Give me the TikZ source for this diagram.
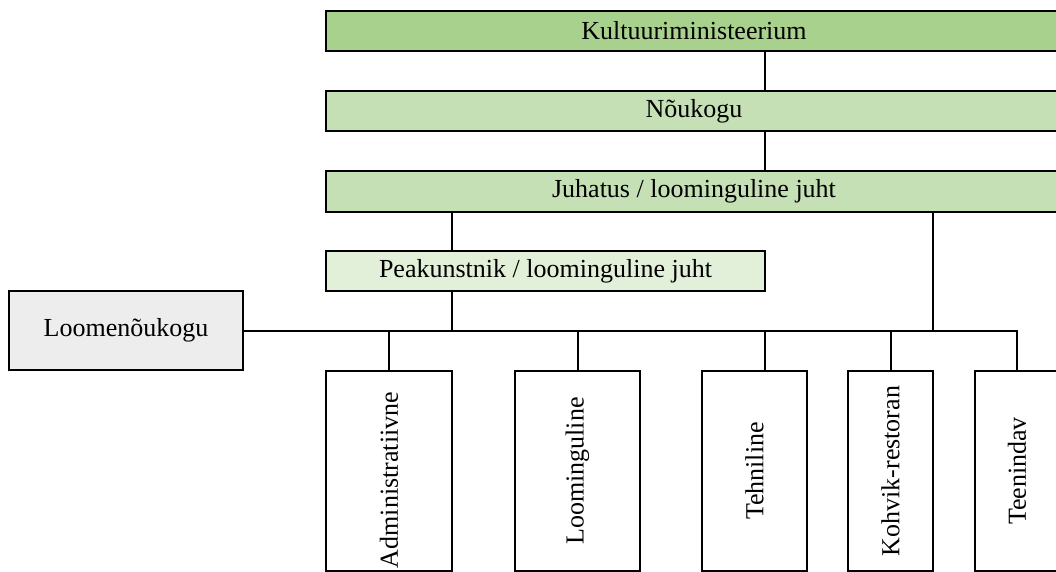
\documentclass[tikz,border=0pt]{standalone}
\usepackage{fontspec}
\setmainfont{Liberation Serif}
\definecolor{gDark}{HTML}{A9D18E}
\definecolor{gMid}{HTML}{C5E0B4}
\definecolor{gLight}{HTML}{E2F0D9}
\definecolor{greyFill}{HTML}{EDEDED}
\tikzset{
  unitbox/.style={draw=black, line width=2pt, rectangle, inner sep=0pt, outer sep=0pt,
    font=\fontsize{26}{30}\selectfont, text=black},
  wide/.style={unitbox, minimum width=736pt, minimum height=40pt},
  dept/.style={unitbox, fill=white, minimum height=200pt},
  vtext/.style={rotate=90, inner sep=0pt, font=\fontsize{26}{30}\selectfont},
  link/.style={line width=2pt, line cap=rect}
}
\begin{document}
\begin{tikzpicture}[x=1pt, y=-1pt]
  \clip (0,0) rectangle (1056,572);
  \fill[white] (0,0) rectangle (1056,572);

  % guide coordinates for vertical connectors
  \coordinate (xmain)  at (765,0);
  \coordinate (xleft)  at (452,0);
  \coordinate (xright) at (933,0);
  \coordinate (xlom)   at (578,0);
  \coordinate (xkoh)   at (891,0);
  \coordinate (busend) at (1017,331);

  % governing bodies (run off the right edge)
  \node[wide, fill=gDark] (kul) at (694,31)  {Kultuuriministeerium};
  \node[wide, fill=gMid]  (nou) at (694,111) {Nõukogu};
  \node[wide, fill=gMid]  (juh) at (694,191.5) {Juhatus / loominguline juht};

  \node[unitbox, fill=gLight, minimum width=439pt, minimum height=40pt] (pea) at (545.5,271)
    {Peakunstnik / loominguline juht};
  \node[unitbox, fill=greyFill, minimum width=234pt, minimum height=79pt] (loo) at (126,330.5)
    {Loomenõukogu};

  % departments
  \node[dept, minimum width=126pt] (adm) at (389,471)   {};
  \node[dept, minimum width=125pt] (lom) at (577.5,471) {};
  \node[dept, minimum width=105pt] (teh) at (754.5,471) {};
  \node[dept, minimum width=85pt]  (koh) at (890.5,471) {};
  \node[dept, minimum width=84pt]  (tee) at (1017,471)  {};

  \node[vtext] (adm-t) at ([yshift=-9pt]adm.center) {Administratiivne};
  \node[vtext] (lom-t) at (lom.center) {Loominguline};
  \node[vtext] (teh-t) at (teh.center) {Tehniline};
  \node[vtext] (koh-t) at (koh.center) {Kohvik-restoran};
  \node[vtext] (tee-t) at (tee.center) {Teenindav};

  % hierarchy connectors
  \draw[link] (kul.south -| xmain) -- (nou.north -| xmain);
  \draw[link] (nou.south -| xmain) -- (juh.north -| xmain);
  \draw[link] (juh.south -| xleft) -- (pea.north -| xleft);
  \draw[link] (pea.south -| xleft) -- (xleft |- busend);
  \draw[link] (juh.south -| xright) -- (xright |- busend);
  \draw[link] (loo.east |- busend) -- (busend);

  % drops to departments
  \draw[link] (adm.north |- busend) -- (adm.north);
  \draw[link] (xlom |- busend) -- (xlom |- lom.north);
  \draw[link] (xmain |- busend) -- (xmain |- teh.north);
  \draw[link] (xkoh |- busend) -- (xkoh |- koh.north);
  \draw[link] (busend) -- (tee.north);
\end{tikzpicture}
\end{document}
